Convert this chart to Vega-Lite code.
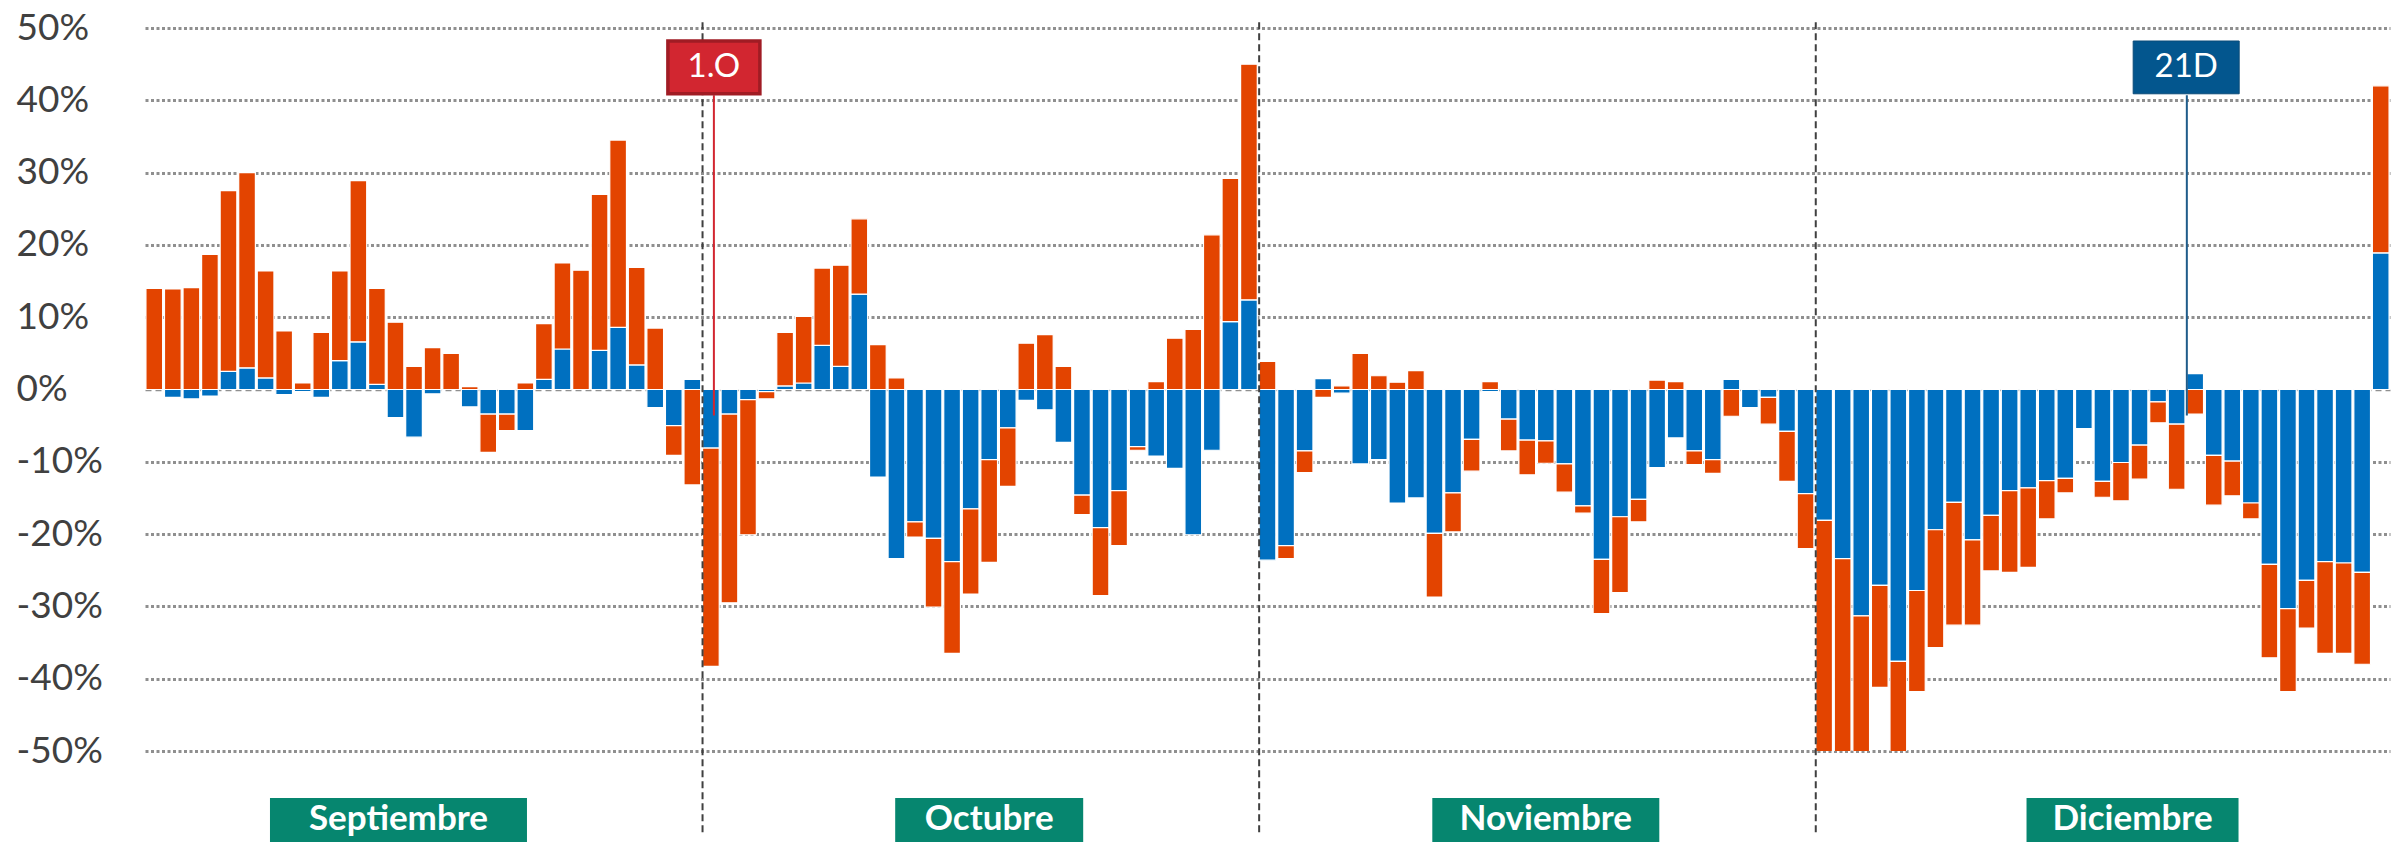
{
  "$schema": "https://vega.github.io/schema/vega-lite/v6.json",
  "autosize": "none",
  "padding": {"left": 145, "top": 28, "right": 14, "bottom": 91},
  "width": 2245,
  "height": 723,
  "background": "white",
  "config": {
    "view": {"stroke": null},
    "font": "Lato"
  },
  "datasets": {
    "dias": [
      {"dia":1,"s1":0.0,"s2":14.0},{"dia":2,"s1":-1.1,"s2":13.9},{"dia":3,"s1":-1.3,"s2":14.1},{"dia":4,"s1":-0.9,"s2":18.7},
      {"dia":5,"s1":2.5,"s2":25.0},{"dia":6,"s1":3.0,"s2":27.0},{"dia":7,"s1":1.6,"s2":14.8},{"dia":8,"s1":-0.7,"s2":8.1},
      {"dia":9,"s1":-0.3,"s2":0.9},{"dia":10,"s1":-1.1,"s2":7.9},{"dia":11,"s1":4.0,"s2":12.4},{"dia":12,"s1":6.6,"s2":22.3},
      {"dia":13,"s1":0.7,"s2":13.3},{"dia":14,"s1":-3.9,"s2":9.3},{"dia":15,"s1":-6.6,"s2":3.2},{"dia":16,"s1":-0.6,"s2":5.8},
      {"dia":17,"s1":0.0,"s2":5.0},{"dia":18,"s1":-2.4,"s2":0.4},{"dia":19,"s1":-3.4,"s2":-5.3},{"dia":20,"s1":-3.4,"s2":-2.3},
      {"dia":21,"s1":-5.7,"s2":0.9},{"dia":22,"s1":1.4,"s2":7.7},{"dia":23,"s1":5.6,"s2":11.9},{"dia":24,"s1":0.0,"s2":16.5},
      {"dia":25,"s1":5.4,"s2":21.6},{"dia":26,"s1":8.6,"s2":25.9},{"dia":27,"s1":3.4,"s2":13.5},{"dia":28,"s1":-2.5,"s2":8.5},
      {"dia":29,"s1":-5.0,"s2":-4.1},{"dia":30,"s1":1.4,"s2":-13.2},
      {"dia":31,"s1":-8.1,"s2":-30.2},{"dia":32,"s1":-3.4,"s2":-26.1},{"dia":33,"s1":-1.4,"s2":-18.7},{"dia":34,"s1":-0.3,"s2":-1.0},
      {"dia":35,"s1":0.5,"s2":7.4},{"dia":36,"s1":0.9,"s2":9.2},{"dia":37,"s1":6.1,"s2":10.7},{"dia":38,"s1":3.2,"s2":14.0},
      {"dia":39,"s1":13.2,"s2":10.4},{"dia":40,"s1":-12.1,"s2":6.2},{"dia":41,"s1":-23.4,"s2":1.6},{"dia":42,"s1":-18.3,"s2":-2.1},
      {"dia":43,"s1":-20.6,"s2":-9.5},{"dia":44,"s1":-23.8,"s2":-12.7},{"dia":45,"s1":-16.5,"s2":-11.8},{"dia":46,"s1":-9.7,"s2":-14.2},
      {"dia":47,"s1":-5.3,"s2":-8.1},{"dia":48,"s1":-1.5,"s2":6.4},{"dia":49,"s1":-2.8,"s2":7.6},{"dia":50,"s1":-7.3,"s2":3.2},
      {"dia":51,"s1":-14.6,"s2":-2.7},{"dia":52,"s1":-19.1,"s2":-9.4},{"dia":53,"s1":-14.0,"s2":-7.6},{"dia":54,"s1":-7.9,"s2":-0.5},
      {"dia":55,"s1":-9.2,"s2":1.1},{"dia":56,"s1":-10.9,"s2":7.1},{"dia":57,"s1":-20.1,"s2":8.3},{"dia":58,"s1":-8.4,"s2":21.4},
      {"dia":59,"s1":9.4,"s2":19.8},{"dia":60,"s1":12.4,"s2":32.6},
      {"dia":61,"s1":-23.6,"s2":3.9},{"dia":62,"s1":-21.6,"s2":-1.8},{"dia":63,"s1":-8.5,"s2":-3.0},{"dia":64,"s1":1.5,"s2":-1.1},
      {"dia":65,"s1":-0.5,"s2":0.5},{"dia":66,"s1":-10.3,"s2":5.0},{"dia":67,"s1":-9.7,"s2":1.9},{"dia":68,"s1":-15.7,"s2":1.0},
      {"dia":69,"s1":-15.0,"s2":2.6},{"dia":70,"s1":-19.9,"s2":-8.8},{"dia":71,"s1":-14.3,"s2":-5.4},{"dia":72,"s1":-6.9,"s2":-4.4},
      {"dia":73,"s1":-0.3,"s2":1.1},{"dia":74,"s1":-4.1,"s2":-4.4},{"dia":75,"s1":-7.0,"s2":-4.8},{"dia":76,"s1":-7.1,"s2":-3.1},
      {"dia":77,"s1":-10.3,"s2":-3.9},{"dia":78,"s1":-16.1,"s2":-1.0},{"dia":79,"s1":-23.5,"s2":-7.5},{"dia":80,"s1":-17.6,"s2":-10.5},
      {"dia":81,"s1":-15.2,"s2":-3.1},{"dia":82,"s1":-10.8,"s2":1.3},{"dia":83,"s1":-6.7,"s2":1.1},{"dia":84,"s1":-8.5,"s2":-1.9},
      {"dia":85,"s1":-9.7,"s2":-1.9},{"dia":86,"s1":1.4,"s2":-3.7},{"dia":87,"s1":-2.5,"s2":0.0},{"dia":88,"s1":-1.1,"s2":-3.7},
      {"dia":89,"s1":-5.8,"s2":-6.9},{"dia":90,"s1":-14.4,"s2":-7.6},
      {"dia":91,"s1":-18.1,"s2":-35.0},{"dia":92,"s1":-23.4,"s2":-31.0},{"dia":93,"s1":-31.3,"s2":-23.0},{"dia":94,"s1":-27.1,"s2":-14.1},
      {"dia":95,"s1":-37.6,"s2":-15.0},{"dia":96,"s1":-27.8,"s2":-14.0},{"dia":97,"s1":-19.4,"s2":-16.3},{"dia":98,"s1":-15.6,"s2":-17.0},
      {"dia":99,"s1":-20.8,"s2":-11.8},{"dia":100,"s1":-17.4,"s2":-7.7},{"dia":101,"s1":-14.0,"s2":-11.3},{"dia":102,"s1":-13.6,"s2":-11.0},
      {"dia":103,"s1":-12.6,"s2":-5.3},{"dia":104,"s1":-12.3,"s2":-2.0},{"dia":105,"s1":-5.4,"s2":0.0},{"dia":106,"s1":-12.7,"s2":-2.2},
      {"dia":107,"s1":-10.1,"s2":-5.3},{"dia":108,"s1":-7.7,"s2":-4.7},{"dia":109,"s1":-1.7,"s2":-2.9},{"dia":110,"s1":-4.8,"s2":-9.0},
      {"dia":111,"s1":2.2,"s2":-3.4},{"dia":112,"s1":-9.1,"s2":-6.9},{"dia":113,"s1":-9.9,"s2":-4.8},{"dia":114,"s1":-15.7,"s2":-2.2},
      {"dia":115,"s1":-24.2,"s2":-12.9},{"dia":116,"s1":-30.3,"s2":-11.5},{"dia":117,"s1":-26.4,"s2":-6.6},{"dia":118,"s1":-23.8,"s2":-12.7},
      {"dia":119,"s1":-24.0,"s2":-12.5},{"dia":120,"s1":-25.3,"s2":-12.7},{"dia":121,"s1":18.9,"s2":23.1}
    ],
    "meses": [
      {"mes": "Septiembre", "dia": 14},
      {"mes": "Octubre", "dia": 46},
      {"mes": "Noviembre", "dia": 76},
      {"mes": "Diciembre", "dia": 108}
    ],
    "divisiones": [{"dia": 31}, {"dia": 61}, {"dia": 91}]
  },
  "layer": [
    {
      "data": {"name": "dias"},
      "transform": [
        {"fold": ["s1", "s2"], "as": ["serie", "valor"]},
        {"filter": "datum.valor != 0"}
      ],
      "mark": {"type": "bar", "clip": true, "stroke": "white", "strokeWidth": 1.2},
      "encoding": {
        "x": {"field": "dia", "type": "ordinal", "axis": null,
              "scale": {"paddingInner": 0.1, "paddingOuter": 0.05}},
        "y": {
          "field": "valor", "type": "quantitative", "stack": "zero",
          "scale": {"domain": [-50, 50], "nice": false, "zero": false},
          "axis": {
            "values": [-50, -40, -30, -20, -10, 0, 10, 20, 30, 40, 50],
            "labelExpr": "datum.value + '%'",
            "domain": false, "ticks": false, "title": null,
            "labelAlign": "left", "labelBaseline": "middle", "labelPadding": 129,
            "labelFont": "Lato", "labelFontSize": 37, "labelColor": "#404040",
            "grid": true,
            "gridColor": "#8f8f8f",
            "gridWidth": {"condition": {"test": "datum.value === 0", "value": 1.5}, "value": 3},
            "gridDash": {"condition": {"test": "datum.value === 0", "value": [6, 4]}, "value": [3, 2.5]}
          }
        },
        "color": {"field": "serie", "type": "nominal", "legend": null,
                  "scale": {"domain": ["s1", "s2"], "range": ["#0070C0", "#E34400"]}},
        "order": {"field": "serie", "sort": "ascending"}
      }
    },
    {
      "data": {"name": "divisiones"},
      "mark": {"type": "rule", "color": "#404040", "strokeWidth": 2, "strokeDash": [7, 4]},
      "encoding": {
        "x": {"field": "dia", "type": "ordinal", "bandPosition": 0},
        "y": {"datum": 50.8, "scale": {"domain": [-50, 50], "nice": false}},
        "y2": {"datum": -61.7}
      }
    },
    {
      "data": {"name": "meses"},
      "mark": {"type": "bar", "color": "#06866F",
               "width": {"expr": "datum.mes === 'Septiembre' ? 257 : datum.mes === 'Octubre' ? 188 : datum.mes === 'Noviembre' ? 227 : 212"},
               "xOffset": {"expr": "datum.mes === 'Septiembre' ? 3 : datum.mes === 'Diciembre' ? -7 : 0"}},
      "encoding": {
        "x": {"field": "dia", "type": "ordinal"},
        "y": {"datum": -56.5, "scale": {"domain": [-50, 50], "nice": false}},
        "y2": {"datum": -62.8}
      }
    },
    {
      "data": {"name": "meses"},
      "mark": {"type": "text", "color": "white", "font": "Lato", "fontWeight": "bold", "fontSize": 35, "align": "center", "baseline": "middle",
               "xOffset": {"expr": "datum.mes === 'Septiembre' ? 3 : datum.mes === 'Diciembre' ? -7 : 0"}},
      "encoding": {
        "x": {"field": "dia", "type": "ordinal"},
        "y": {"datum": -59.4, "scale": {"domain": [-50, 50], "nice": false}},
        "text": {"field": "mes"}
      }
    },
    {
      "data": {"values": [{"hito": "1.O", "dia": 31}]},
      "layer": [
        {
          "mark": {"type": "rule", "color": "#D22630", "strokeWidth": 2, "xOffset": 3},
          "encoding": {
            "x": {"field": "dia", "type": "ordinal"},
            "y": {"datum": 40.7, "scale": {"domain": [-50, 50], "nice": false}},
            "y2": {"datum": -3.6}
          }
        },
        {
          "mark": {"type": "bar", "color": "#D22630", "stroke": "#A01C24", "strokeWidth": 3.5, "width": 92, "xOffset": 3},
          "encoding": {
            "x": {"field": "dia", "type": "ordinal"},
            "y": {"datum": 40.9, "scale": {"domain": [-50, 50], "nice": false}},
            "y2": {"datum": 48.2}
          }
        },
        {
          "mark": {"type": "text", "color": "white", "font": "Lato", "fontSize": 33, "align": "center", "baseline": "middle", "xOffset": 3},
          "encoding": {
            "x": {"field": "dia", "type": "ordinal"},
            "y": {"datum": 44.6, "scale": {"domain": [-50, 50], "nice": false}},
            "text": {"field": "hito"}
          }
        }
      ]
    },
    {
      "data": {"values": [{"hito": "21D", "dia": 111}]},
      "layer": [
        {
          "mark": {"type": "rule", "color": "#1F5C8A", "strokeWidth": 2},
          "encoding": {
            "x": {"field": "dia", "type": "ordinal", "bandPosition": 0},
            "y": {"datum": 40.7, "scale": {"domain": [-50, 50], "nice": false}},
            "y2": {"datum": -3.6}
          }
        },
        {
          "mark": {"type": "bar", "color": "#03568E", "stroke": "#0A4A78", "strokeWidth": 1, "width": 106, "xOffset": -9},
          "encoding": {
            "x": {"field": "dia", "type": "ordinal"},
            "y": {"datum": 40.9, "scale": {"domain": [-50, 50], "nice": false}},
            "y2": {"datum": 48.2}
          }
        },
        {
          "mark": {"type": "text", "color": "white", "font": "Lato", "fontSize": 33, "align": "center", "baseline": "middle", "xOffset": -9},
          "encoding": {
            "x": {"field": "dia", "type": "ordinal"},
            "y": {"datum": 44.6, "scale": {"domain": [-50, 50], "nice": false}},
            "text": {"field": "hito"}
          }
        }
      ]
    }
  ]
}
